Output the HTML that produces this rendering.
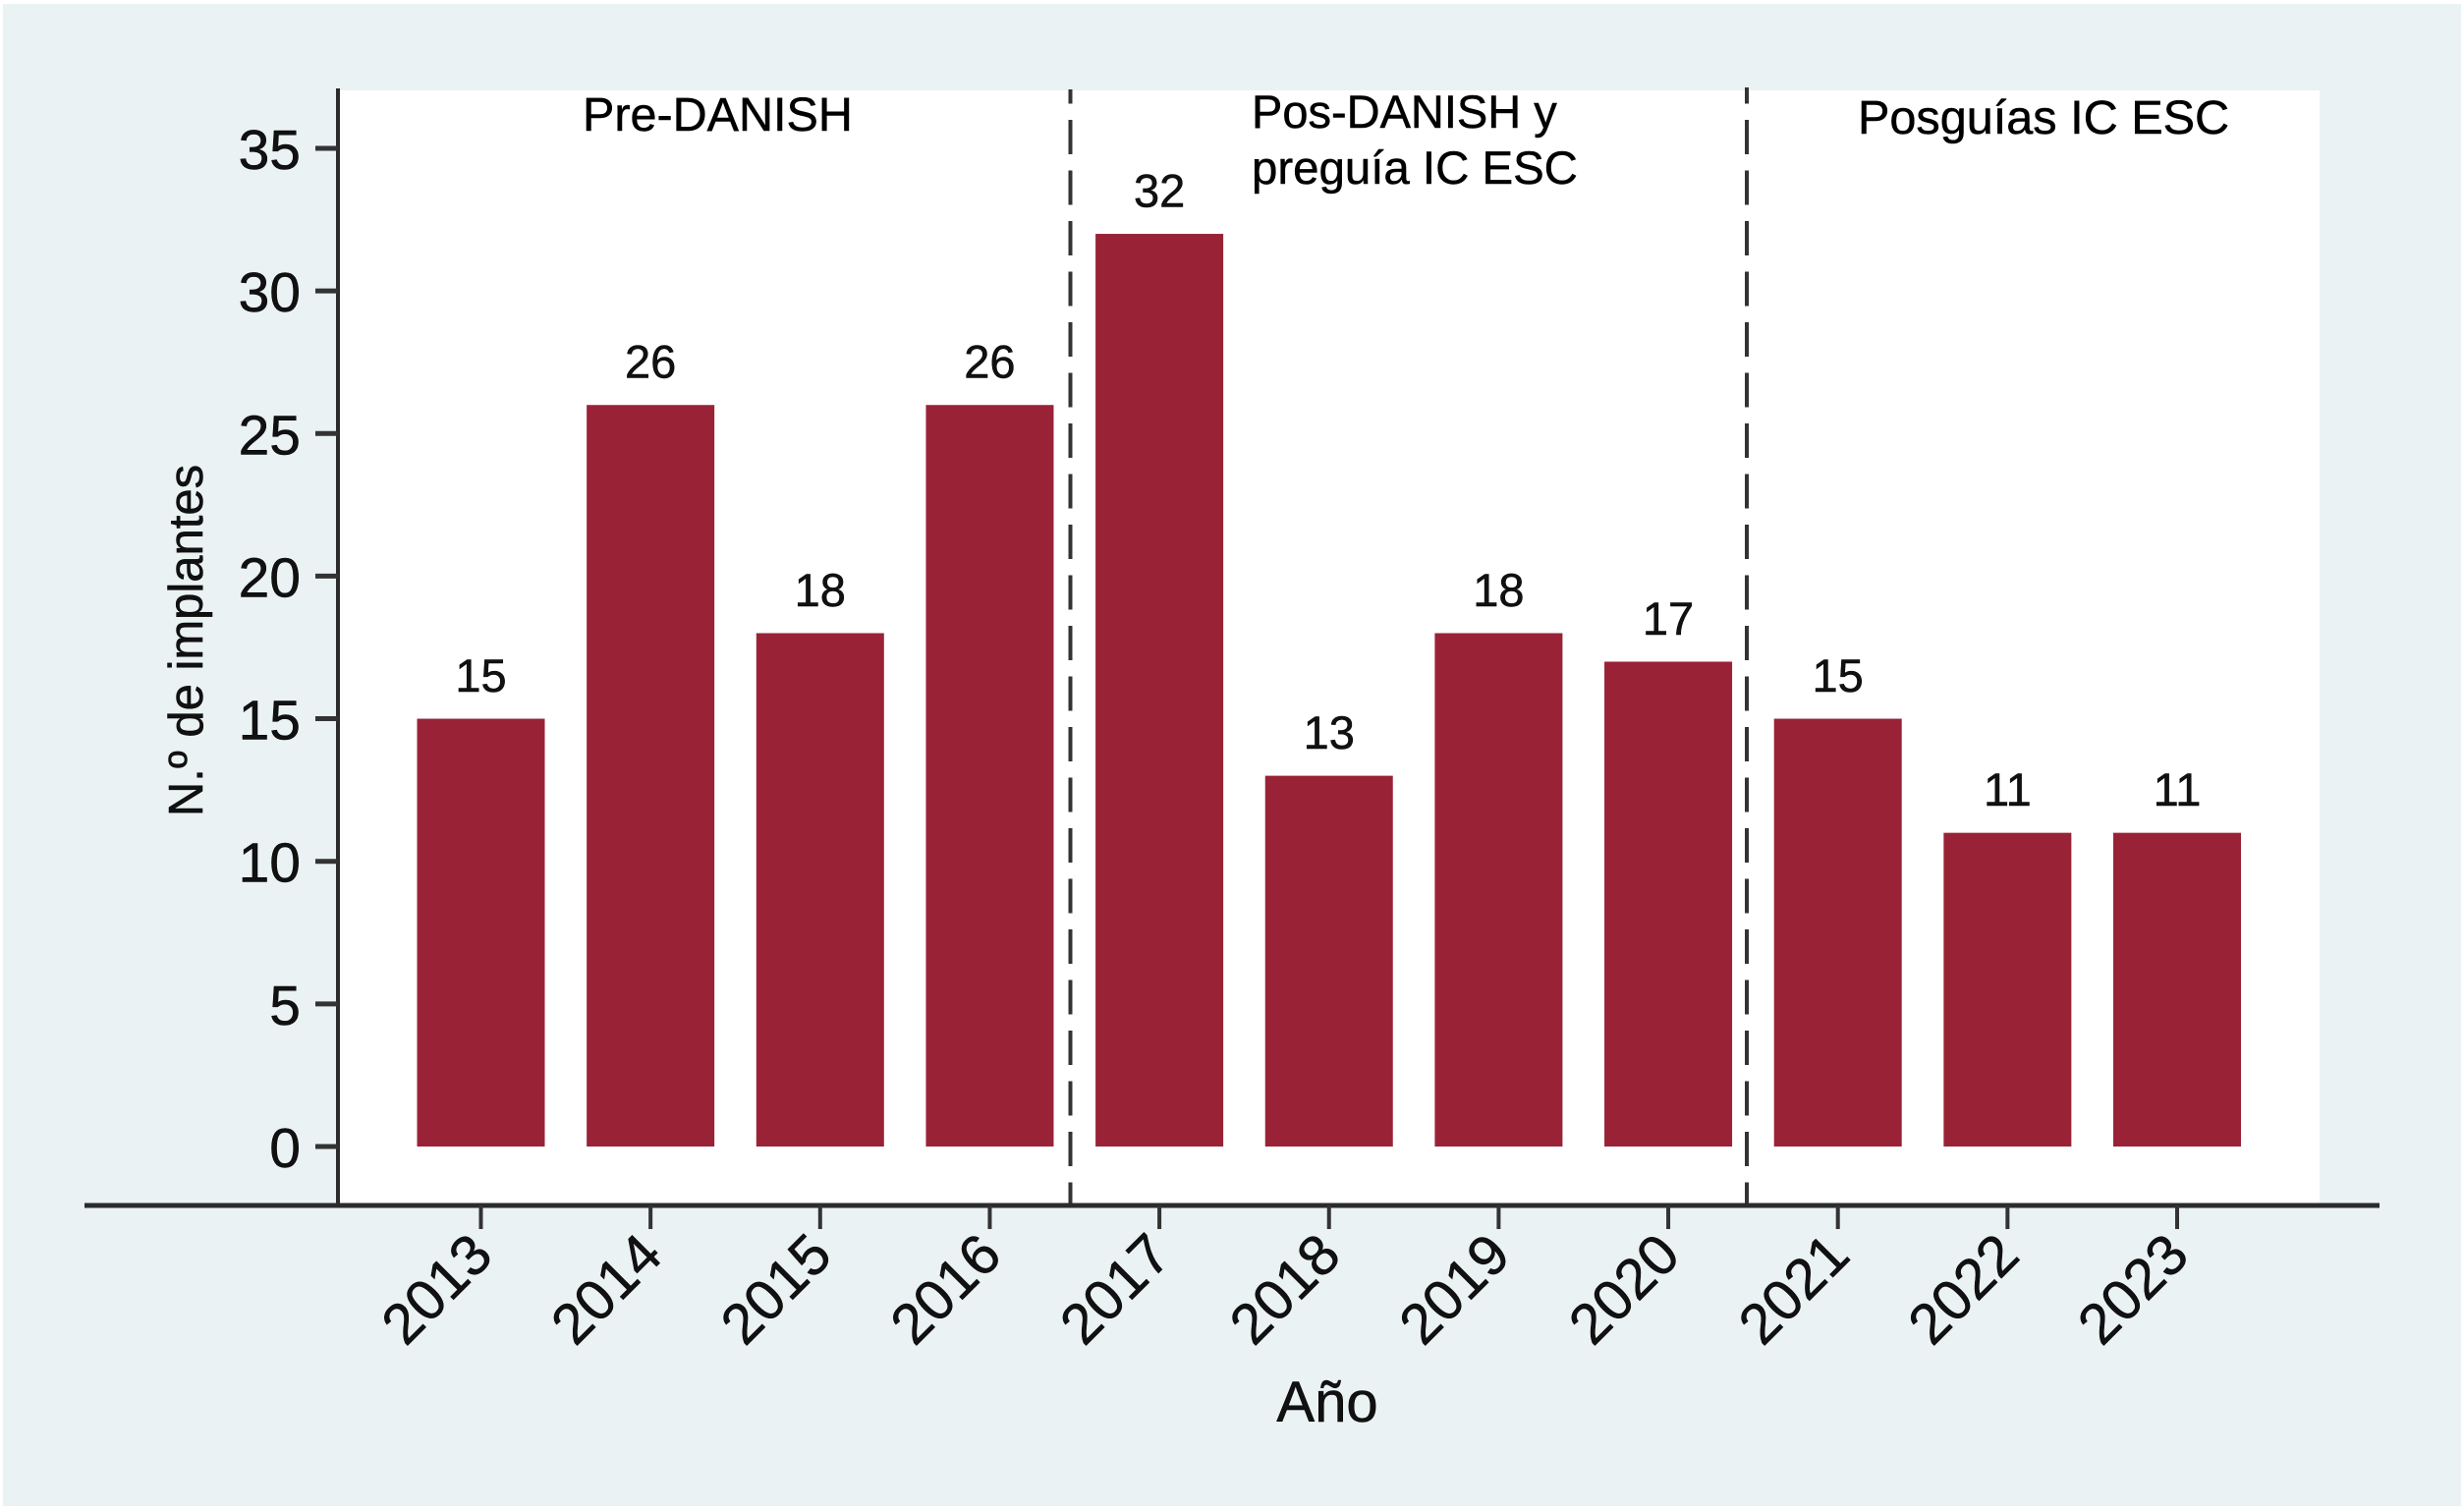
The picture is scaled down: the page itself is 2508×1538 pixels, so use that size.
<!DOCTYPE html>
<html lang="es">
<head>
<meta charset="utf-8">
<title>N.º de implantes por año</title>
<style>
html,body{margin:0;padding:0;background:#fff;}
svg{display:block;font-family:"Liberation Sans",Arial,sans-serif;}
svg text{stroke:#000;stroke-width:0.5px;}
</style>
</head>
<body>
<svg id="chart" xmlns="http://www.w3.org/2000/svg" width="2508" height="1538" viewBox="0 0 2508 1538">
  <rect x="3" y="4" width="2502" height="1529" fill="#eaf2f3"/>
  <rect x="344" y="92" width="2017" height="1134" fill="#ffffff"/>
  <g id="bars"></g>
  <g id="value-labels"></g>
  <line x1="1089.5" y1="91" x2="1089.5" y2="1226" stroke="#333" stroke-width="4" stroke-dasharray="35 16.5" stroke-dashoffset="20.5"/>
  <line x1="1778" y1="89" x2="1778" y2="1226" stroke="#333" stroke-width="4" stroke-dasharray="35 16.5" stroke-dashoffset="18.5"/>
  <line x1="344" y1="90" x2="344" y2="1228" stroke="#2b2b2b" stroke-width="4"/>
  <line x1="86" y1="1227" x2="2422" y2="1227" stroke="#2b2b2b" stroke-width="5"/>
  <g id="y-axis"></g>
  <g id="x-axis"></g>
  <text x="593" y="133" font-size="48.5" fill="#000">Pre-DANISH</text>
  <text x="1274" y="130" font-size="47" fill="#000">Pos-DANISH y</text>
  <text x="1274" y="187" font-size="47.4" fill="#000">preguía IC ESC</text>
  <text x="1891" y="136" font-size="48.6" fill="#000">Posguías IC ESC</text>
  <text x="1351" y="1447" font-size="58" text-anchor="middle" fill="#111">Año</text>
  <text transform="translate(206,652) rotate(-90)" font-size="49" text-anchor="middle" fill="#111">N.º de implantes</text>
</svg>
<script>
const categories = ["2013","2014","2015","2016","2017","2018","2019","2020","2021","2022","2023"];
const implantCounts = [15,26,18,26,32,13,18,17,15,11,11];
const yTickLabels = [0,5,10,15,20,25,30,35];

const NS = "http://www.w3.org/2000/svg";
const plot = {x0: 489.5, step: 172.65, barWidth: 130, y0: 1167, unit: 29.03};
const xScale = function (i) { return plot.x0 + i * plot.step; };
const yScale = function (v) { return plot.y0 - v * plot.unit; };

function make(tag, attrs, parent, text) {
  const el = document.createElementNS(NS, tag);
  Object.keys(attrs).forEach(function (k) { el.setAttribute(k, attrs[k]); });
  if (text !== undefined) el.textContent = text;
  parent.appendChild(el);
  return el;
}

const barsG = document.getElementById("bars");
const valuesG = document.getElementById("value-labels");
const xAxisG = document.getElementById("x-axis");
const yAxisG = document.getElementById("y-axis");

categories.forEach(function (cat, i) {
  const v = implantCounts[i];
  const cx = xScale(i);
  const bar = make("rect", {x: cx - plot.barWidth / 2, y: yScale(v), width: plot.barWidth, height: yScale(0) - yScale(v), fill: "#9a2236"}, barsG);
  
  

  const val = make("text", {x: cx, y: yScale(v) - 27.5, "font-size": 47, "text-anchor": "middle", fill: "#111"}, valuesG, String(v));
  
  

  const tick = make("line", {x1: cx, x2: cx, y1: 1227, y2: 1251, stroke: "#333", "stroke-width": 4}, xAxisG);
  
  

  const lx = cx - 31;
  const ly = 1326;
  const lab = make("text", {x: lx, y: ly, "font-size": 58, "text-anchor": "middle", fill: "#111", transform: "rotate(-45 " + lx + " " + ly + ")"}, xAxisG, cat);
  
  
});

yTickLabels.forEach(function (t) {
  const y = yScale(t);
  const tick = make("line", {x1: 321, x2: 344, y1: y, y2: y, stroke: "#333", "stroke-width": 5}, yAxisG);
  
  

  const lab = make("text", {x: 306, y: y + 21, "font-size": 57, "text-anchor": "end", fill: "#111"}, yAxisG, String(t));
  
  
});
</script>
</body>
</html>
